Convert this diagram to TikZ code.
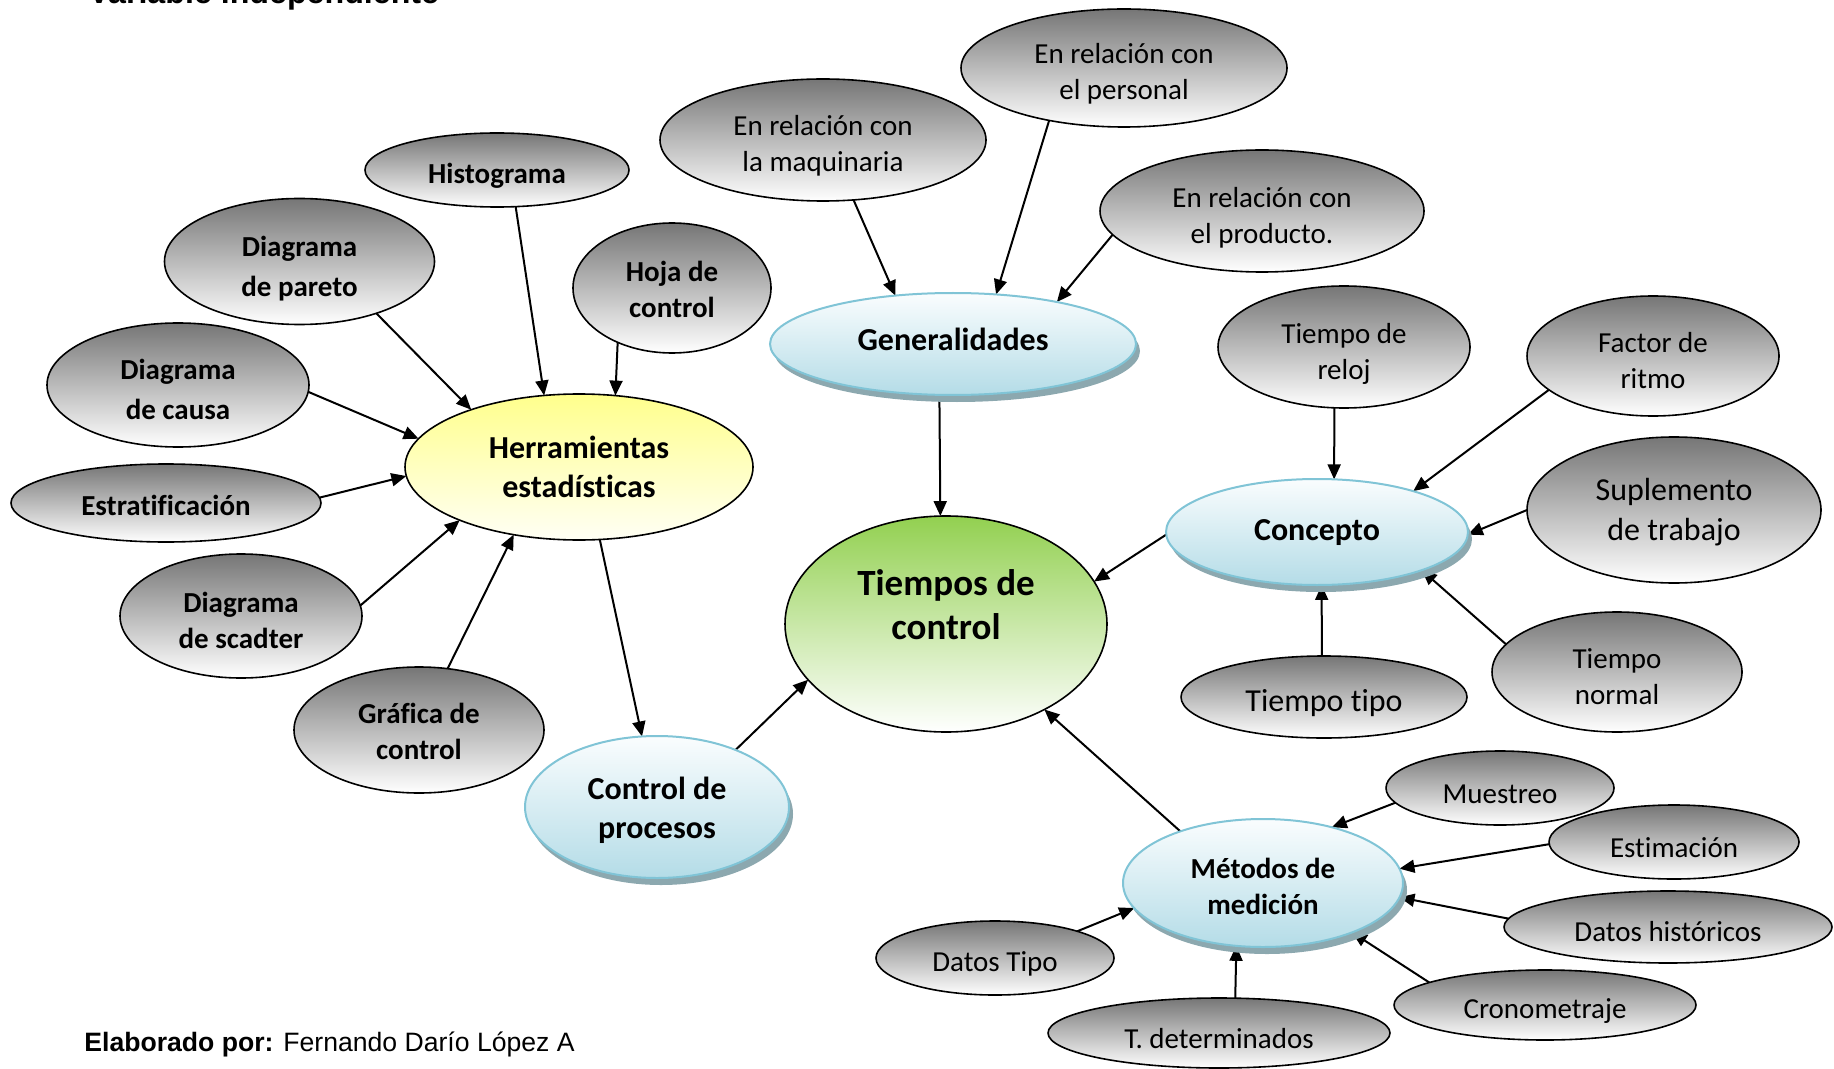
\documentclass[tikz,border=0pt]{standalone}
\usepackage{fontspec}
\setmainfont{Carlito}[Ligatures=CommonOff]
\newfontfamily\arialfont{Liberation Sans}
\usetikzlibrary{shapes.geometric,arrows.meta,shadows,backgrounds}

\definecolor{grtop}{RGB}{118,118,118}
\definecolor{yltop}{RGB}{255,255,140}
\definecolor{ylbot}{RGB}{255,255,245}
\definecolor{grntop}{RGB}{146,208,80}
\definecolor{blutop}{RGB}{250,253,254}
\definecolor{blubot}{RGB}{180,220,231}
\definecolor{bluedge}{RGB}{128,196,214}
\definecolor{blushadow}{RGB}{140,168,175}

% lowers one line of node text without changing the box the node is built around
\newcommand\tdrop{0pt}
\newcommand\dl[1]{\raisebox{-\tdrop}[\height][\depth]{#1}}

\tikzset{
  bubble/.style={ellipse, inner sep=0pt, outer sep=0pt, align=center, text=black},
  dims/.style 2 args={minimum width=#1pt, minimum height=#2pt},
  drop/.style={execute at begin node={\renewcommand\tdrop{#1}}},
  grey/.style={bubble, draw=black, line width=0.8pt, top color=grtop, bottom color=white},
  gbold/.style={grey, font=\bfseries\fontsize{14.5}{18}\selectfont},
  greg/.style={grey, font=\fontsize{14.5}{18}\selectfont},
  gbig/.style={grey, font=\fontsize{16}{20}\selectfont},
  topic/.style={bubble, draw=bluedge, line width=1pt, top color=blutop, bottom color=blubot,
    drop shadow={shadow xshift=2pt, shadow yshift=-3.5pt, fill=blushadow, opacity=1},
    font=\bfseries\fontsize{16}{19.5}\selectfont},
  link/.style={line width=1pt, -{Triangle[length=7.5pt,width=6.5pt]}},
}

\begin{document}
\begin{tikzpicture}[x=0.5pt,y=-0.5pt]
\useasboundingbox (0,0) rectangle (1834,1069);

% headings
\node[anchor=base west, inner sep=0pt, font=\arialfont\bfseries\fontsize{16.1}{19}\selectfont] (titulo) at (88,4) {Variable independiente};
\node[anchor=base west, inner sep=0pt, font=\arialfont\fontsize{13.3}{16}\selectfont] (autor) at (84,1051) {\textbf{Elaborado por:} Fernando Darío López A};

% statistical tools
\node[gbold, dims={132}{37}, drop=3pt] (hist) at (497,170) {\dl{Histograma}};
\node[gbold, dims={135}{63}, drop=3.5pt, font=\bfseries\fontsize{14.5}{20}\selectfont] (pareto) at (299.5,261.5) {\dl{Diagrama}\\\dl{de pareto}};
\node[gbold, dims={99}{65}, drop=0.5pt] (hoja) at (672,288) {\dl{Hoja de}\\\dl{control}};
\node[gbold, dims={131}{62}, drop=2.3pt, font=\bfseries\fontsize{14.5}{20}\selectfont] (causa) at (178,385) {\dl{Diagrama}\\\dl{de causa}};
\node[gbold, dims={155}{39}, drop=1pt] (estrat) at (166,503) {\dl{Estratificación}};
\node[gbold, dims={121}{62}, drop=2.3pt] (scadter) at (241,616) {\dl{Diagrama}\\\dl{de scadter}};
\node[gbold, dims={125}{63}, drop=0.5pt] (grafica) at (419,730) {\dl{Gráfica de}\\\dl{control}};

\node[bubble, dims={174}{73}, draw=black, line width=0.8pt, top color=yltop, bottom color=ylbot,
      font=\bfseries\fontsize{16}{19.5}\selectfont] (herr) at (579,467) {Herramientas\\estadísticas};

% main blocks
\node[topic, dims={132}{71}, drop=1.75pt] (proc) at (657,807) {\dl{Control de}\\\dl{procesos}};
\node[bubble, dims={161}{108}, draw=black, line width=0.8pt, top color=grntop, bottom color=white,
      font=\bfseries\fontsize{18.5}{22}\selectfont, text depth=19pt] (tiempos) at (946,624) {Tiempos de\\control};
\node[topic, dims={183}{51}, drop=-2.3pt] (gen) at (953,344) {\dl{Generalidades}};
\node[topic, dims={151}{53}, drop=0.5pt] (concepto) at (1317,532) {\dl{Concepto}};
\node[topic, dims={140}{64}, drop=1.75pt, font=\bfseries\fontsize{14.5}{18}\selectfont] (metodos) at (1263,883) {\dl{Métodos de}\\\dl{medición}};

% generalities
\node[greg, dims={163}{61}, drop=3pt] (maq) at (823,140) {\dl{En relación con}\\\dl{la maquinaria}};
\node[greg, dims={163}{59}, drop=3pt] (pers) at (1124,68) {\dl{En relación con}\\\dl{el personal}};
\node[greg, dims={162}{61}, drop=3.5pt] (prod) at (1262,211) {\dl{En relación con}\\\dl{el producto.}};

% concept
\node[greg, dims={126}{61}, drop=3.5pt] (reloj) at (1344,347) {\dl{Tiempo de}\\\dl{reloj}};
\node[greg, dims={126}{60}, drop=2.5pt] (ritmo) at (1653,356) {\dl{Factor de}\\\dl{ritmo}};
\node[gbig, dims={147}{73}, drop=1pt] (supl) at (1674,510) {\dl{Suplemento}\\\dl{de trabajo}};
\node[gbig, dims={143}{41}, drop=3pt] (tipo) at (1324,697) {\dl{Tiempo tipo}};
\node[greg, dims={125}{60}, drop=2.5pt] (normal) at (1617,672) {\dl{Tiempo}\\\dl{normal}};

% measuring methods
\node[greg, dims={114}{37}, drop=3pt] (muestreo) at (1500,788) {\dl{Muestreo}};
\node[greg, dims={125}{37}, drop=3pt] (estim) at (1674,842) {\dl{Estimación}};
\node[greg, dims={164}{36}, drop=2.5pt] (dhist) at (1668,927) {\dl{Datos históricos}};
\node[greg, dims={151}{35}, drop=3pt] (crono) at (1545,1005) {\dl{Cronometraje}};
\node[greg, dims={171}{35}, drop=3pt] (tdet) at (1219,1033) {\dl{T. determinados}};
\node[greg, dims={119}{37}, drop=3pt] (dtipo) at (995,958) {\dl{Datos Tipo}};

\begin{pgfonlayer}{background}
\draw[link] (hist.-63) -- (herr.116);
\draw[link] (hoja.-135) -- (herr.63);
\draw[link] (pareto.-34) -- (herr.152);
\draw[link] (causa.-3.5) -- (herr.170);
\draw[link] (estrat.2) -- (herr.183);
\draw[link] (scadter.5) -- (herr.204);
\draw[link] (grafica.65) -- (herr.-134);
\draw[link] (herr.-74) -- (proc.102);
\draw[link] (proc.36) -- (tiempos.-158.5);
\draw[link] (gen.-105) -- (tiempos.93);
\draw[link] (maq.-63) -- (gen.140);
\draw[link] (pers.-145) -- (gen.49);
\draw[link] (prod.-171) -- (gen.22);
\draw[link] (concepto.181) -- (tiempos.16);
\draw[link] (reloj.-99) -- (concepto.72);
\draw[link] (ritmo.-162) -- (concepto.23);
\draw[link] (supl.180) -- (concepto.-1);
\draw[link] (tipo.93) -- (concepto.-85);
\draw[link] (normal.166) -- (concepto.-20);
\draw[link] (metodos.148) -- (tiempos.-41);
\draw[link] (muestreo.-172) -- (metodos.39);
\draw[link] (estim.-179) -- (metodos.6);
\draw[link] (dhist.177) -- (metodos.-6);
\draw[link] (crono.169) -- (metodos.-29);
\draw[link] (tdet.65.5) -- (metodos.-113);
\draw[link] (dtipo.18) -- (metodos.-169);
\end{pgfonlayer}
\end{tikzpicture}
\end{document}
